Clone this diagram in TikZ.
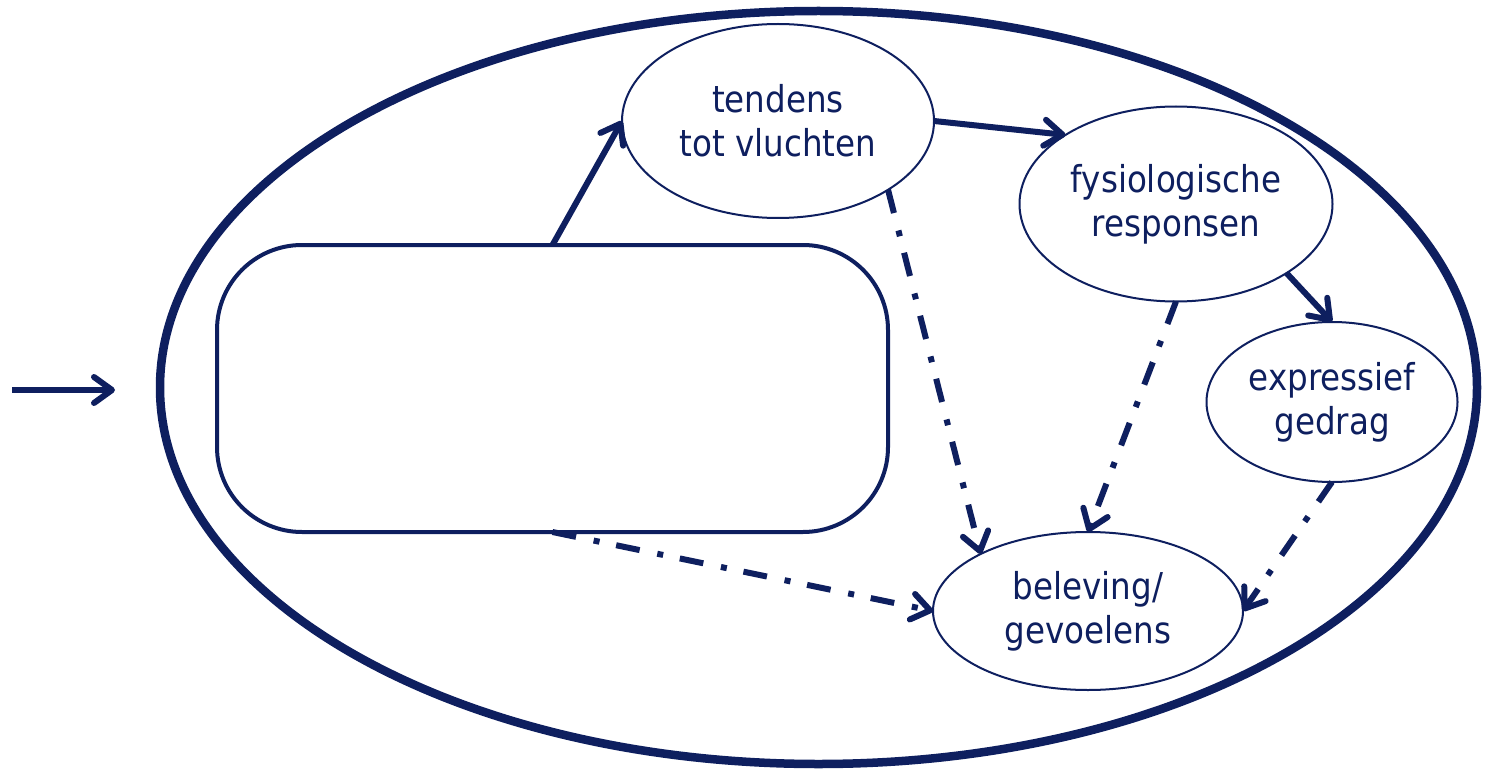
\documentclass[tikz,border=0pt]{standalone}
\usepackage{fontspec}
\setmainfont{DejaVu Sans}[FakeStretch=0.88]
\usetikzlibrary{shapes.geometric,arrows.meta}
\definecolor{navy}{HTML}{0E1F5F}
\begin{document}
\begin{tikzpicture}[x=1pt,y=-1pt,
  every node/.style={outer sep=0pt,inner sep=0pt},
  bub/.style={ellipse,draw=navy,fill=white,line width=2pt,text=navy,align=center,font=\fontsize{37}{44}\selectfont},
  tipend/.style={-{Straight Barb[length=18pt,width=26pt,line cap=round,line join=round]}},
  sol/.style={draw=navy,line width=6pt,tipend},
  dd/.style={sol,dash pattern=on 24pt off 18pt on 6pt off 17pt}]
\useasboundingbox (0,0) rectangle (1488,770);
\node[ellipse,draw=navy,line width=8.5pt,minimum width=1317pt,minimum height=753pt] (outer) at (818.5,387.5) {};
\node[draw=navy,line width=4pt,rounded corners=85pt,minimum width=671pt,minimum height=287pt] (box) at (552.5,388.5) {};
\node[bub,minimum width=312pt,minimum height=194pt] (tend) at (778,121) {tendens\\tot vluchten};
\node[bub,minimum width=313pt,minimum height=195pt] (fys) at (1176,204) {fysiologische\\responsen};
\node[bub,minimum width=251pt,minimum height=160pt] (expr) at (1332,402) {expressief\\gedrag};
\node[bub,minimum width=310pt,minimum height=158pt] (bel) at (1088,611) {beleving/\\gevoelens};
\coordinate (in0) at (12,390);
\coordinate (in1) at (115,390);
\draw[sol] (in0) -- (in1);
\draw[sol] (box.north) -- (tend.west);
\draw[sol] (tend.east) -- (fys.148);
\draw[sol] (fys.-32) -- (expr.north);
\draw[dd] (tend.-32) -- (bel.152);
\draw[dd] (fys.south) -- (bel.north);
\draw[dd] (expr.south) -- (bel.east);
\draw[dd] (box.south) -- (bel.west);
\end{tikzpicture}
\end{document}
